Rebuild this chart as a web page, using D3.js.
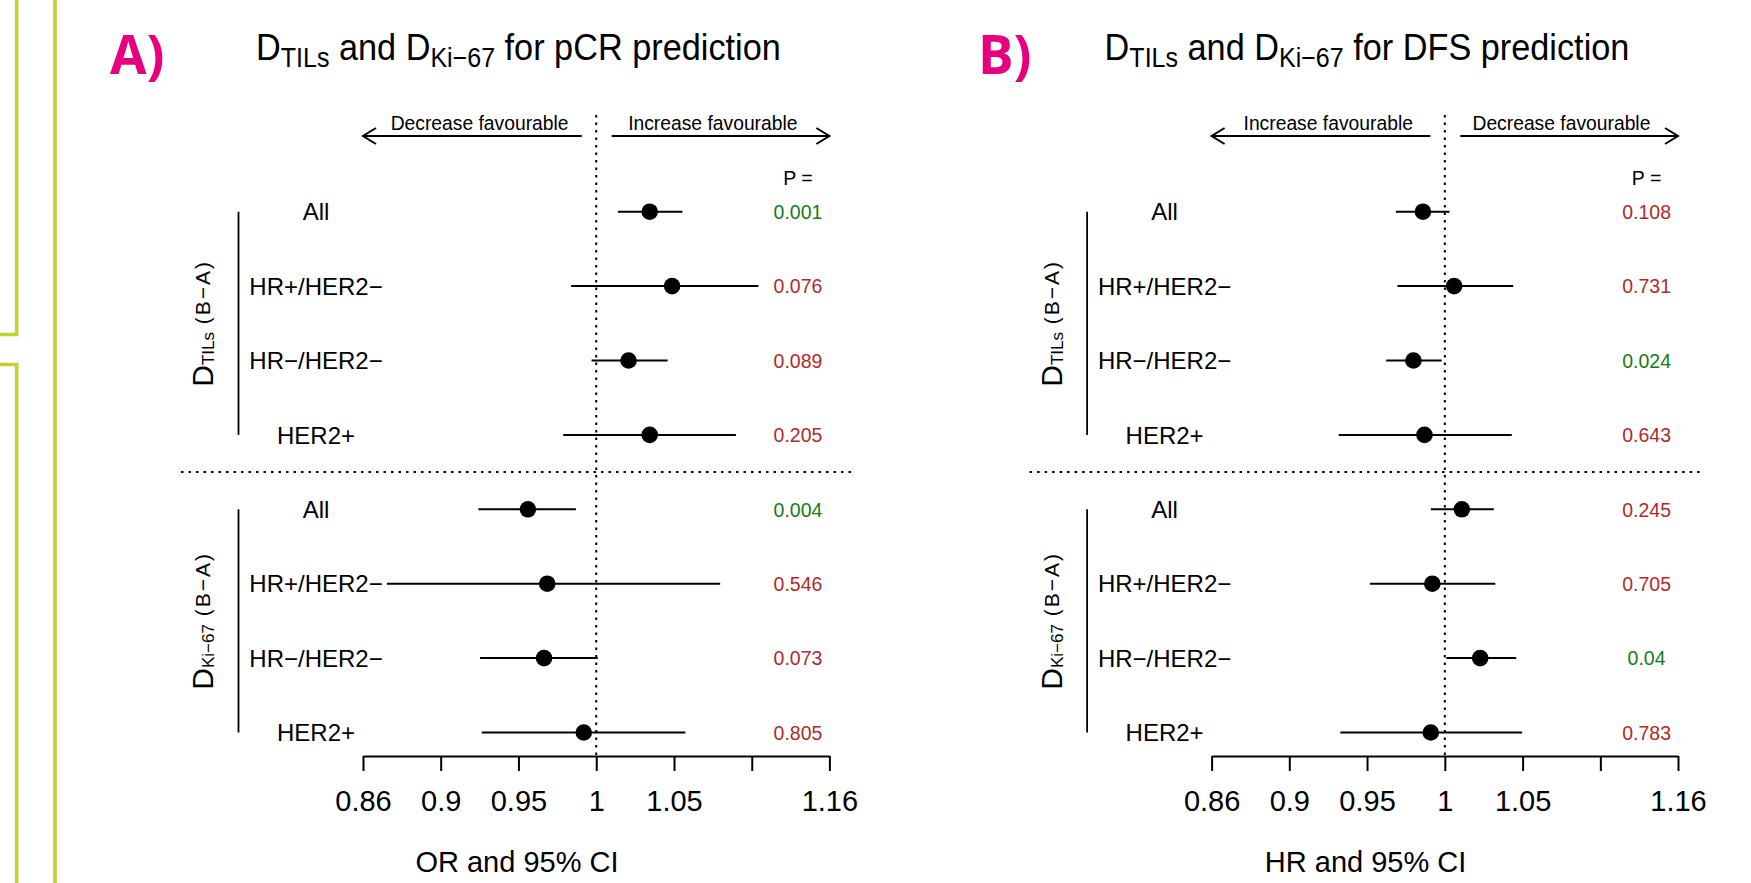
<!DOCTYPE html>
<html>
<head>
<meta charset="utf-8">
<script src="https://cdn.jsdelivr.net/npm/d3@7"></script>
<style>
  html, body { margin: 0; padding: 0; background: #ffffff; }
  svg { display: block; }
  text { font-family: "Liberation Sans", Arial, Helvetica, sans-serif; }
</style>
</head>
<body>
<script>
// ---------------- data ----------------
const rowLabels = ["All", "HR+/HER2\u2212", "HR\u2212/HER2\u2212", "HER2+"];
const groupSubs = ["TILs", "Ki\u221267"];
const tickValues = [0.8607, 0.9048, 0.9512, 1, 1.0513, 1.1052, 1.1618];
const tickLabels = ["0.86", "0.9", "0.95", "1", "1.05", "", "1.16"];

// Panel A: OR for pCR
const pcrOR   = [1.035, 1.050, 1.021, 1.035, 0.957, 0.969, 0.967, 0.992];
const pcrLow  = [1.014, 0.984, 0.997, 0.979, 0.927, 0.874, 0.928, 0.929];
const pcrHigh = [1.057, 1.110, 1.047, 1.094, 0.987, 1.083, 1.001, 1.059];
const pcrP    = ["0.001", "0.076", "0.089", "0.205", "0.004", "0.546", "0.073", "0.805"];

// Panel B: HR for DFS
const dfsHR   = [0.986, 1.006, 0.980, 0.987, 1.011, 0.992, 1.023, 0.991];
const dfsLow  = [0.969, 0.970, 0.963, 0.934, 0.991, 0.953, 1.001, 0.935];
const dfsHigh = [1.003, 1.045, 0.998, 1.044, 1.032, 1.033, 1.047, 1.051];
const dfsP    = ["0.108", "0.731", "0.024", "0.643", "0.245", "0.705", "0.04", "0.783"];

const panelTags = ["A)", "B)"];
const panelTitleEnds = [" for pCR prediction", " for DFS prediction"];
const axisTitles = ["OR and 95% CI", "HR and 95% CI"];
const arrowTexts = [["Decrease favourable", "Increase favourable"],
                    ["Increase favourable", "Decrease favourable"]];

// ---------------- layout ----------------
const W = 1751, H = 883;
const panelDX = 848.6;
const tagX = [110, 978];
const green = "#177a17", red = "#b02a2a", lime = "#c3d22f", magenta = "#e6007e";

const svg = d3.select("body").append("svg")
  .attr("width", W).attr("height", H).attr("viewBox", `0 0 ${W} ${H}`);

// lime decorative lines on the left
svg.append("path")
  .attr("d", "M16.7,0 L16.7,334.5 L0,334.5 M0,364.5 L16.7,364.5 L16.7,883")
  .attr("fill", "none").attr("stroke", lime).attr("stroke-width", 3.6);
svg.append("path")
  .attr("d", "M55,0 L55,883")
  .attr("fill", "none").attr("stroke", lime).attr("stroke-width", 3.6);

const panels = [
  { est: pcrOR, low: pcrLow, high: pcrHigh, p: pcrP },
  { est: dfsHR, low: dfsLow, high: dfsHigh, p: dfsP }
];

panels.forEach((pd, pi) => {
  const dx = pi * panelDX;
  const g = svg.append("g");

  const x = d3.scaleLog()
    .domain([tickValues[0], tickValues[tickValues.length - 1]])
    .range([363 + dx, 829.4 + dx]);
  const y = d3.scaleLinear().domain([0, 7]).range([211.7, 732.5]);
  const axisY = 756;
  const x1 = x(1);

  // tag
  g.append("text")
    .attr("x", tagX[pi]).attr("y", 73.5)
    .style("font-family", "'Open Sans', 'Noto Sans', sans-serif")
    .attr("font-weight", 700).attr("font-size", 53)
    .attr("fill", magenta)
    .text(panelTags[pi]);

  // title
  const tg = g.append("g");
  const tt = tg.append("text").attr("x", 0).attr("y", 0).attr("font-size", 37).attr("fill", "#000");
  tt.append("tspan").text("D");
  tt.append("tspan").attr("dy", 7).attr("font-size", 27).text(groupSubs[0]);
  tt.append("tspan").attr("dy", -7).text(" and D");
  tt.append("tspan").attr("dy", 7).attr("font-size", 27).text(groupSubs[1]);
  tt.append("tspan").attr("dy", -7).text(panelTitleEnds[pi]);
  const tw = tt.node().getComputedTextLength();
  tg.attr("transform", `translate(${256 + dx},60) scale(${525 / tw},1)`);

  // arrows
  const ay = 136;
  const xl = x(tickValues[0]), xr = x(tickValues[tickValues.length - 1]);
  g.append("line").attr("x1", xl).attr("x2", x1 - 14.5).attr("y1", ay).attr("y2", ay)
    .attr("stroke", "#000").attr("stroke-width", 2);
  g.append("line").attr("x1", x1 + 15.5).attr("x2", xr).attr("y1", ay).attr("y2", ay)
    .attr("stroke", "#000").attr("stroke-width", 2);
  g.append("path").attr("d", `M${xl + 13},${ay - 8} L${xl},${ay} L${xl + 13},${ay + 8}`)
    .attr("fill", "none").attr("stroke", "#000").attr("stroke-width", 2);
  g.append("path").attr("d", `M${xr - 13},${ay - 8} L${xr},${ay} L${xr - 13},${ay + 8}`)
    .attr("fill", "none").attr("stroke", "#000").attr("stroke-width", 2);
  g.append("text").attr("x", (xl + x1) / 2).attr("y", 129.5).attr("text-anchor", "middle")
    .attr("font-size", 19.3).text(arrowTexts[pi][0]);
  g.append("text").attr("x", (xr + x1) / 2).attr("y", 129.5).attr("text-anchor", "middle")
    .attr("font-size", 19.3).text(arrowTexts[pi][1]);

  // P = header
  g.append("text").attr("x", 798 + dx).attr("y", 185).attr("text-anchor", "middle")
    .attr("font-size", 19.5).text("P =");

  // vertical dotted reference line
  g.append("line").attr("x1", x1).attr("x2", x1).attr("y1", 115).attr("y2", axisY)
    .attr("stroke", "#000").attr("stroke-width", 2).attr("stroke-dasharray", "2.5,5");

  // horizontal dotted separator
  const sepY = (y(3) + y(4)) / 2;
  g.append("line").attr("x1", 181 + dx).attr("x2", 853 + dx).attr("y1", sepY).attr("y2", sepY)
    .attr("stroke", "#000").attr("stroke-width", 2).attr("stroke-dasharray", "2.5,5");

  // groups: vertical lines + rotated labels
  groupSubs.forEach((sub, gi) => {
    const y0 = y(gi * 4), y3 = y(gi * 4 + 3);
    g.append("line").attr("x1", 238.5 + dx).attr("x2", 238.5 + dx).attr("y1", y0).attr("y2", y3)
      .attr("stroke", "#000").attr("stroke-width", 1.8);
    const lab = g.append("text")
      .attr("transform", `translate(${213 + dx},${(y0 + y3) / 2}) rotate(-90)`)
      .attr("text-anchor", "middle").attr("font-size", 30);
    lab.append("tspan").text("D");
    lab.append("tspan").attr("dy", 1).attr("font-size", 17).text(sub);
    lab.append("tspan").attr("dy", -4).attr("font-size", 21).attr("letter-spacing", 2)
      .text(" (B\u2212A)");
  });

  // rows
  const idx = d3.range(pd.est.length);
  g.selectAll(".rowlab").data(idx).join("text")
    .attr("x", 316 + dx).attr("y", i => y(i) + 8.7)
    .attr("text-anchor", "middle").attr("font-size", 24)
    .text(i => rowLabels[i % 4]);

  g.selectAll(".ci").data(idx).join("line")
    .attr("x1", i => x(pd.low[i])).attr("x2", i => x(pd.high[i]))
    .attr("y1", i => y(i)).attr("y2", i => y(i))
    .attr("stroke", "#000").attr("stroke-width", 2);

  g.selectAll(".pt").data(idx).join("circle")
    .attr("cx", i => x(pd.est[i])).attr("cy", i => y(i)).attr("r", 8.3)
    .attr("fill", "#000");

  g.selectAll(".pv").data(idx).join("text")
    .attr("x", 798 + dx).attr("y", i => y(i) + 7.2)
    .attr("text-anchor", "middle").attr("font-size", 19.5)
    .attr("fill", i => (+pd.p[i] < 0.05 ? green : red))
    .text(i => pd.p[i]);

  // axis
  const axis = d3.axisBottom(x)
    .tickValues(tickValues)
    .tickFormat((d, i) => tickLabels[i])
    .tickSize(15).tickSizeOuter(0).tickPadding(19.4);
  const ag = g.append("g").attr("transform", `translate(0,${axisY})`).call(axis);
  ag.select(".domain").attr("stroke", "#000").attr("stroke-width", 2);
  ag.selectAll(".tick line").attr("stroke", "#000").attr("stroke-width", 2);
  ag.selectAll(".tick text")
    .style("font-family", "'Liberation Sans', Arial, sans-serif")
    .attr("font-size", 29).attr("fill", "#000");

  // axis title
  g.append("text").attr("x", 517 + dx).attr("y", 872).attr("text-anchor", "middle")
    .attr("font-size", 29).text(axisTitles[pi]);
});
</script>
</body>
</html>
